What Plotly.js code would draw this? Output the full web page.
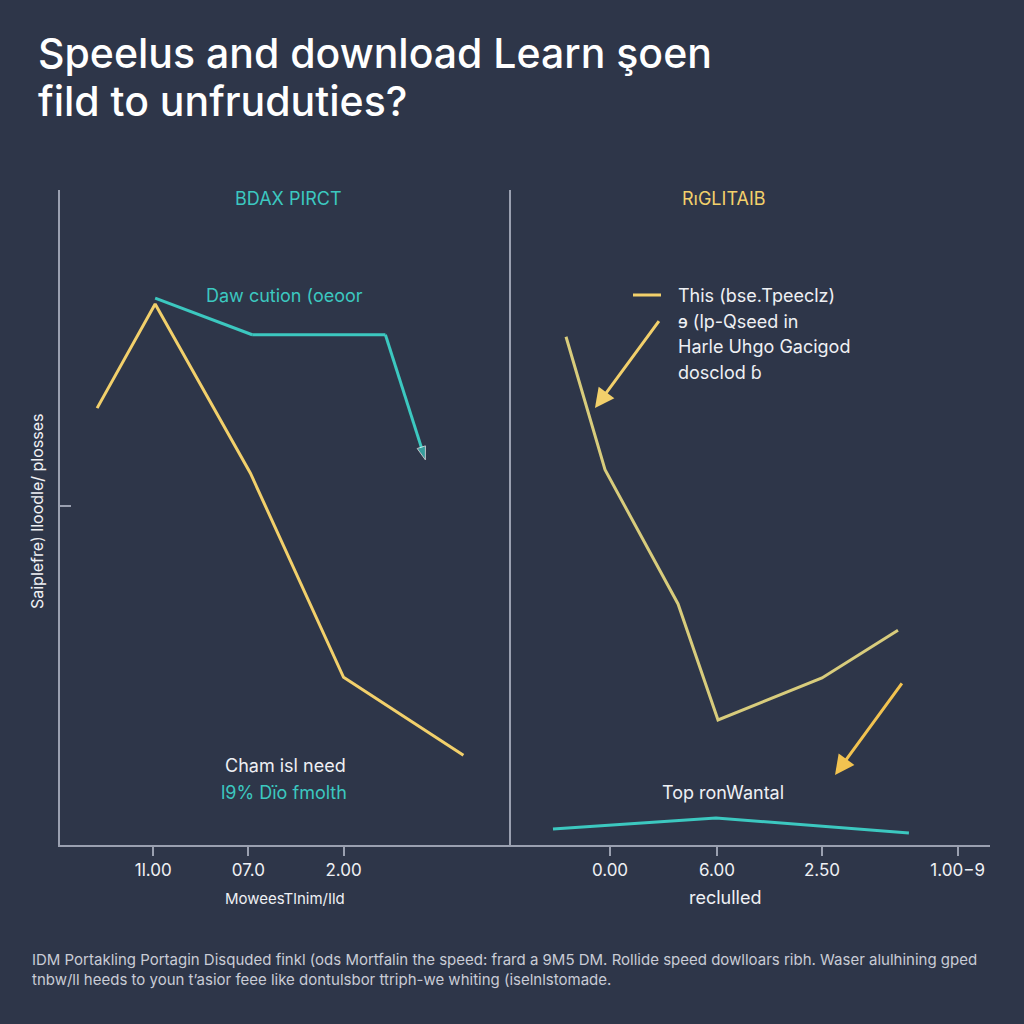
<!DOCTYPE html>
<html>
<head>
<meta charset="utf-8">
<script src="https://cdn.plot.ly/plotly-3.0.1.min.js"></script>
<style>html,body{margin:0;padding:0;background:#2e3649;}#chart{width:1024px;height:1024px;}</style>
</head>
<body>
<div id="chart"></div>
<script>
// Left panel data
const leftTickVals = [1, 2, 3];
const leftTickText = ['1l.00', '07.0', '2.00'];
const leftYellowX = [0.41, 1.02, 2.02, 3.0, 4.26];
const leftYellowY = [66.7, 82.6, 56.8, 25.6, 13.7];
const leftTealX = [1.02, 2.04, 3.44, 3.86];
const leftTealY = [83.5, 77.9, 77.9, 58.8];

// Right panel data
const rightTickVals = [1, 2.01, 3, 4.28];
const rightTickText = ['0.00', '6.00', '2.50', '1.00\u22129'];
const rightYellowX = [0.585, 0.953, 1.642, 2.019, 3.0, 3.717];
const rightYellowY = [77.6, 57.3, 36.8, 19.1, 25.5, 32.8];
const rightTealX = [0.462, 2.0, 3.82];
const rightTealY = [2.44, 4.12, 1.83];

// Legend-note lines
const noteLines = ['This (bse.Tpeeclz)', '\u0258 (lp-Qseed in', 'Harle Uhgo Gacigod', 'dosclod \u0253'];
const notePx = [295, 321, 346, 372];

const BG = '#2e3649';
const YEL = '#f2d06b';
const YEL2 = '#d8cc7c';
const TEAL = '#3cc8c0';
const AX = '#9aa0b0';
const TXT = '#eef0f4';
const FONT = 'Inter, "Open Sans", sans-serif';

const traces = [
  {x: leftYellowX, y: leftYellowY, xaxis: 'x', yaxis: 'y', mode: 'lines',
   line: {color: YEL, width: 3}, hoverinfo: 'skip'},
  {x: leftTealX, y: leftTealY, xaxis: 'x', yaxis: 'y', mode: 'lines+markers',
   line: {color: TEAL, width: 3},
   marker: {symbol: 'arrow', angleref: 'previous', size: [0, 0, 0, 14], color: TEAL},
   hoverinfo: 'skip'},
  {x: rightYellowX, y: rightYellowY, xaxis: 'x2', yaxis: 'y2', mode: 'lines',
   line: {color: YEL2, width: 3}, hoverinfo: 'skip'},
  {x: rightTealX, y: rightTealY, xaxis: 'x2', yaxis: 'y2', mode: 'lines',
   line: {color: TEAL, width: 3}, hoverinfo: 'skip'}
];

const yDom = [(1024 - 845) / 1024, (1024 - 190) / 1024];
const tickFont = {family: FONT, size: 17, color: TXT};

const annotations = [
  {text: 'Speelus and download Learn \u015foen', xref: 'paper', yref: 'paper',
   x: 36/1024, y: (1024-53)/1024, xanchor: 'left', yanchor: 'middle', showarrow: false,
   font: {family: FONT, size: 41, color: '#ffffff', weight: 500}},
  {text: 'fild to unfruduties?', xref: 'paper', yref: 'paper',
   x: 36/1024, y: (1024-101)/1024, xanchor: 'left', yanchor: 'middle', showarrow: false,
   font: {family: FONT, size: 41, color: '#ffffff', weight: 500}},
  {text: 'BDAX PIRCT', xref: 'paper', yref: 'paper', x: 288/1024, y: (1024-198)/1024,
   xanchor: 'center', yanchor: 'middle', showarrow: false, font: {family: FONT, size: 18, color: TEAL}},
  {text: 'R\u0131GLITAIB', xref: 'paper', yref: 'paper', x: 724/1024, y: (1024-198)/1024,
   xanchor: 'center', yanchor: 'middle', showarrow: false, font: {family: FONT, size: 18, color: YEL}},
  {text: 'Daw cution (oeoor', xref: 'paper', yref: 'paper', x: 284/1024, y: (1024-295)/1024,
   xanchor: 'center', yanchor: 'middle', showarrow: false, font: {family: FONT, size: 18, color: TEAL}},
  {text: 'Cham isl need', xref: 'paper', yref: 'paper', x: 285/1024, y: (1024-765)/1024,
   xanchor: 'center', yanchor: 'middle', showarrow: false, font: {family: FONT, size: 18, color: TXT}},
  {text: 'l9% D\u00efo fmolth', xref: 'paper', yref: 'paper', x: 284/1024, y: (1024-792)/1024,
   xanchor: 'center', yanchor: 'middle', showarrow: false, font: {family: FONT, size: 18, color: TEAL}},
  {text: 'Top ronWantal', xref: 'paper', yref: 'paper', x: 723/1024, y: (1024-792)/1024,
   xanchor: 'center', yanchor: 'middle', showarrow: false, font: {family: FONT, size: 18, color: TXT}},
  {text: 'MoweesTlnim/Ild', xref: 'paper', yref: 'paper', x: 285/1024, y: (1024-898)/1024,
   xanchor: 'center', yanchor: 'middle', showarrow: false, font: {family: FONT, size: 15, color: TXT}},
  {text: 'reclulled', xref: 'paper', yref: 'paper', x: 725/1024, y: (1024-897)/1024,
   xanchor: 'center', yanchor: 'middle', showarrow: false, font: {family: FONT, size: 18, color: TXT}},
  {text: 'Saiplefre) lloodle/ plosses', xref: 'paper', yref: 'paper', x: 37/1024, y: (1024-512)/1024,
   xanchor: 'center', yanchor: 'middle', textangle: -90, showarrow: false,
   font: {family: FONT, size: 16, color: TXT}},
  {text: 'IDM Portakling Portagin Disquded finkl (ods Mortfalin the speed: frard a 9M5 DM. Rollide speed dowlloars ribh. Waser alulhining gped<br>tnbw/ll heeds to youn t\u2019asior feee like dontulsbor ttriph-we whiting (iselnlstomade.',
   xref: 'paper', yref: 'paper', x: 30/1024, y: (1024-969)/1024, xanchor: 'left', yanchor: 'middle',
   align: 'left', showarrow: false, font: {family: FONT, size: 15, color: '#c9ccd6'}},
  // arrows
  {x: 0.858, y: 66.7, xref: 'x2', yref: 'y2', ax: 1.472, ay: 80.2, axref: 'x2', ayref: 'y2',
   showarrow: true, arrowhead: 2, arrowsize: 1.3, arrowwidth: 3, arrowcolor: YEL, text: ''},
  {x: 3.123, y: 10.7, xref: 'x2', yref: 'y2', ax: 3.764, ay: 24.9, axref: 'x2', ayref: 'y2',
   showarrow: true, arrowhead: 2, arrowsize: 1.3, arrowwidth: 3, arrowcolor: '#f2c350', text: ''}
];
noteLines.forEach((t, i) => annotations.push({
  text: t, xref: 'paper', yref: 'paper', x: 676/1024, y: (1024 - notePx[i])/1024,
  xanchor: 'left', yanchor: 'middle', showarrow: false, font: {family: FONT, size: 18, color: TXT}
}));

const layout = {
  width: 1024, height: 1024,
  paper_bgcolor: BG, plot_bgcolor: BG,
  showlegend: false,
  margin: {l: 0, r: 0, t: 0, b: 0},
  xaxis: {domain: [60/1024, 511/1024], range: [0.02, 4.76], showgrid: false, zeroline: false,
          showline: true, linecolor: AX, linewidth: 2, ticks: 'outside', ticklen: 9, tickwidth: 2,
          tickcolor: AX, tickvals: leftTickVals, ticktext: leftTickText, tickfont: tickFont,
          anchor: 'y'},
  yaxis: {domain: yDom, range: [0, 100], showgrid: false, zeroline: false,
          showline: true, linecolor: AX, linewidth: 2, ticks: 'inside', ticklen: 11, tickwidth: 2,
          tickcolor: AX, tickvals: [51.8], showticklabels: false, anchor: 'x'},
  xaxis2: {domain: [511/1024, 990/1024], range: [0.066, 4.585], showgrid: false, zeroline: false,
          showline: true, linecolor: AX, linewidth: 2, ticks: 'outside', ticklen: 9, tickwidth: 2,
          tickcolor: AX, tickvals: rightTickVals, ticktext: rightTickText, tickfont: tickFont,
          anchor: 'y2'},
  yaxis2: {domain: yDom, range: [0, 100], showgrid: false, zeroline: false,
          showline: true, linecolor: AX, linewidth: 2, ticks: '', showticklabels: false, anchor: 'x2'},
  shapes: [
    {type: 'line', xref: 'paper', yref: 'paper', x0: 633/1024, x1: 661/1024,
     y0: (1024-295)/1024, y1: (1024-295)/1024, line: {color: YEL, width: 3}}
  ],
  annotations: annotations
};

Plotly.newPlot('chart', traces, layout, {staticPlot: true});
</script>
</body>
</html>
